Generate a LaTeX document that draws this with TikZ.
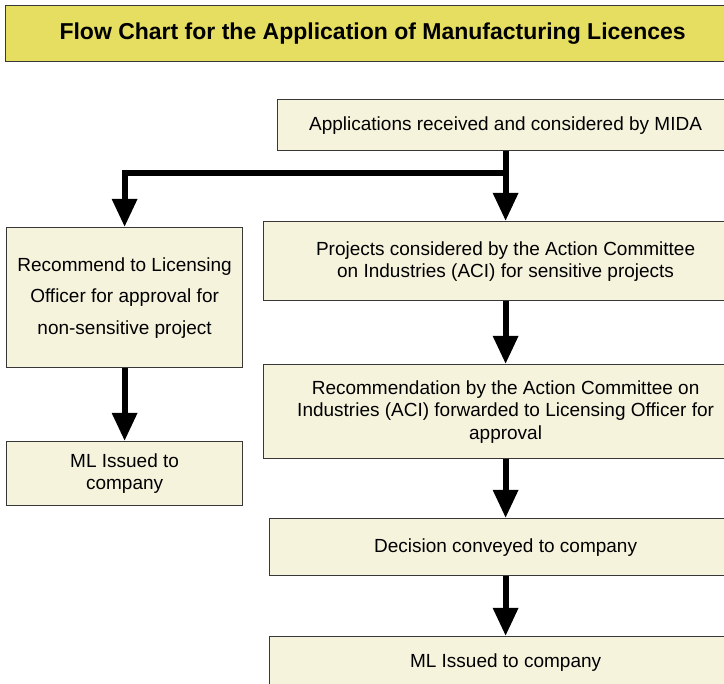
\documentclass[tikz,border=0pt]{standalone}
\usepackage{fontspec}
\setmainfont{Liberation Sans}
\usetikzlibrary{arrows.meta}
\definecolor{boxfill}{RGB}{246,243,221}
\definecolor{titlefill}{RGB}{229,222,96}
\definecolor{edge}{RGB}{55,55,55}
\begin{document}
\begin{tikzpicture}[x=1pt,y=-1pt,
  box/.style={draw=edge, line width=1.2pt, fill=boxfill, anchor=north west,
    inner sep=0pt, align=center, font=\fontsize{19}{22}\selectfont},
  arr/.style={line width=6pt, -{Triangle[width=24pt,length=28pt]}}]
\useasboundingbox (0,0) rectangle (724,684);
\fill[white] (0,0) rectangle (724,684);
\clip (0,0) rectangle (724,684);
\node[box, fill=titlefill, minimum width=734pt, minimum height=56pt,
  font=\fontsize{23}{27}\selectfont\bfseries] (title) at (5,5)
  {Flow Chart for the Application of Manufacturing Licences};
\node[box, minimum width=456pt, minimum height=51pt] (app) at (277,99)
  {Applications received and considered by MIDA};
\node[box, minimum width=236pt, minimum height=140pt,
  font=\fontsize{19}{31.5}\selectfont] (l1) at (6,227)
  {Recommend to Licensing\\Officer for approval for\\non-sensitive project};
\node[box, minimum width=236pt, minimum height=64pt] (l2) at (6,441)
  {ML Issued to\\company};
\node[box, minimum width=484pt, minimum height=79pt] (r1) at (263,221)
  {Projects considered by the Action Committee\\on Industries (ACI) for sensitive projects};
\node[box, minimum width=484pt, minimum height=94pt,
  font=\fontsize{19}{22.5}\selectfont] (r2) at (263,364)
  {Recommendation by the Action Committee on\\Industries (ACI) forwarded to Licensing Officer for\\approval};
\node[box, minimum width=472pt, minimum height=57pt] (r3) at (269,518)
  {Decision conveyed to company};
\node[box, minimum width=472pt, minimum height=51pt] (r4) at (269,636)
  {ML Issued to company};
\coordinate (j) at (505,173);
\draw[arr] (app.south) -- (r1.north);
\draw[arr] (j) -| (l1.north);
\draw[arr] (l1.south) -- (l2.north);
\draw[arr] (r1.south) -- (r2.north);
\draw[arr] (r2.south) -- (r3.north);
\draw[arr] (r3.south) -- (r4.north);
\end{tikzpicture}
\end{document}
